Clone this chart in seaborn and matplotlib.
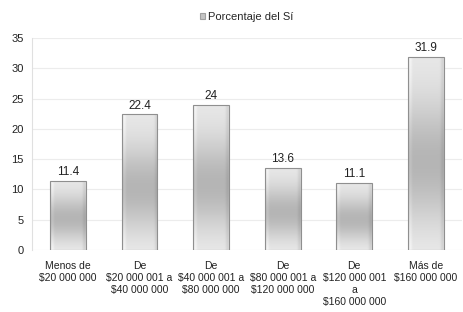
import numpy as np
import pandas as pd
import matplotlib
matplotlib.use("Agg")
import matplotlib.pyplot as plt
import seaborn as sns

categories = [
    "Menos de\n$20 000 000",
    "De\n$20 000 001 a\n$40 000 000",
    "De\n$40 000 001 a\n$80 000 000",
    "De\n$80 000 001 a\n$120 000 000",
    "De\n$120 000 001\na\n$160 000 000",
    "Más de\n$160 000 000",
]
values = [11.4, 22.4, 24, 13.6, 11.1, 31.9]
value_labels = ["11.4", "22.4", "24", "13.6", "11.1", "31.9"]
series_name = "Porcentaje del Sí"

df = pd.DataFrame({"rango": categories, "pct": values})

sns.set_theme(style="white")
plt.rcParams["font.family"] = ["Liberation Sans", "DejaVu Sans"]

fig = plt.figure(figsize=(4.64, 3.12), dpi=100)
ax = fig.add_axes([0.069, 0.199, 0.926, 0.679])

sns.barplot(data=df, x="rango", y="pct", color="#c0c0c0", width=0.5,
            edgecolor="#8f8f8f", linewidth=0.8, ax=ax, label=series_name)

# cylinder-like shading: vertical light-dark-light, darker near sides
ny, nx = 100, 40
yy = np.linspace(0, 1, ny)[:, None]   # 0 = top of bar
xx = np.linspace(0, 1, nx)[None, :]
vert = 0.92 - 0.22 * np.exp(-((yy - 0.55) / 0.33) ** 2) + 0.02 * yy
horiz = np.ones_like(xx)
horiz = horiz + 0.06 * np.exp(-((xx - 0.06) / 0.04) ** 2) - 0.08 * np.exp(-((xx - 0.97) / 0.05) ** 2)
shade = np.clip(vert * horiz, 0, 1)
rgb = np.dstack([shade, shade, shade])

for p in list(ax.patches):
    x0, w = p.get_x(), p.get_width()
    y0, h = p.get_y(), p.get_height()
    im = ax.imshow(rgb, extent=[x0, x0 + w, y0, y0 + h], aspect="auto",
                   interpolation="bilinear", zorder=p.get_zorder() + 0.1)
    im.set_clip_path(p)
    p.set_facecolor("none")
    p.set_zorder(p.get_zorder() + 0.2)

for i, (v, lab) in enumerate(zip(values, value_labels)):
    ax.text(i, v + 0.4, lab, ha="center", va="bottom", fontsize=8.5, color="#222222")

ax.set_xlim(-0.5, 5.5)
ax.set_ylim(0, 35)
ax.set_yticks(range(0, 36, 5))
ax.yaxis.grid(True, color="#ececec", linewidth=0.8)
ax.set_axisbelow(True)
ax.set_xlabel("")
ax.set_ylabel("")
ax.tick_params(axis="y", labelsize=8, colors="#222222", length=0, pad=6)
ax.tick_params(axis="x", labelsize=7.5, colors="#222222", length=0, pad=8)
for lbl in ax.get_xticklabels():
    lbl.set_linespacing(1.25)
for s in ["top", "right", "bottom"]:
    ax.spines[s].set_visible(False)
ax.spines["left"].set_color("#e0e0e0")
ax.spines["left"].set_linewidth(0.8)

leg = ax.legend(loc="center", bbox_to_anchor=(0.5, 1.1), frameon=False,
                fontsize=8, handlelength=0.45, handleheight=0.45, handletextpad=0.3)
for h in leg.legend_handles:
    h.set_facecolor("#c4c4c4")
    h.set_edgecolor("#a0a0a0")

fig.savefig("out.png", dpi=100)
